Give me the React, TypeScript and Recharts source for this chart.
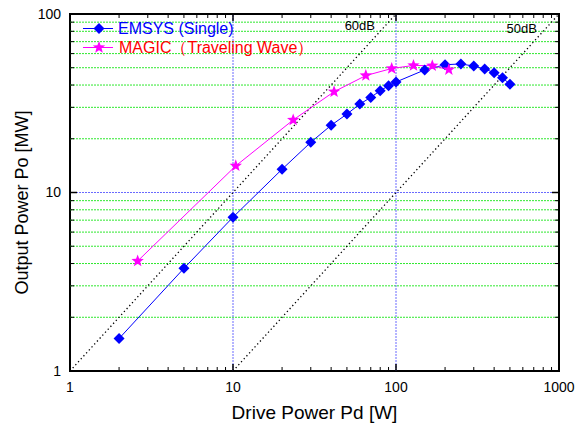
import React from 'react';
import {
  ComposedChart,
  Line,
  XAxis,
  YAxis,
  ReferenceLine,
  ReferenceArea,
  ReferenceDot,
  Legend,
  Label,
} from 'recharts';

// ---- data ----
const emsysPd = [2, 5, 10, 20, 30, 40, 50, 60, 70, 80, 90, 100, 150, 200, 250, 300, 350, 400, 450, 500];
const emsysPo = [1.52, 3.76, 7.27, 13.5, 19.1, 23.8, 27.5, 31.3, 34.1, 37.2, 39.6, 41.6, 48.6, 52.0, 52.5, 51.1, 49.2, 46.9, 44.0, 40.4];

const magicPd = [2.6, 10.4, 23.4, 41.7, 65.3, 94.1, 128, 167, 211];
const magicPo = [4.13, 14.1, 25.5, 36.7, 45.2, 49.5, 51.5, 51.3, 48.8];

const xTickLabels = [1, 10, 100, 1000];
const yTickLabels = [1, 10, 100];
const xMinorTicks = [2, 3, 4, 5, 6, 7, 8, 9, 20, 30, 40, 50, 60, 70, 80, 90, 200, 300, 400, 500, 600, 700, 800, 900];
const yMinorTicks = [2, 3, 4, 5, 6, 7, 8, 9, 20, 30, 40, 50, 60, 70, 80, 90];
const xMajorTicks = [10, 100];
const yMajorTicks = [10];

// gain reference lines: 60dB (Po[MW] = Pd[W]) and 50dB (Po[MW] = Pd[W]/10)
const line60dB = [{ x: 1, y: 1 }, { x: 100, y: 100 }];
const line50dB = [{ x: 10, y: 1 }, { x: 1000, y: 100 }];

const emsysData = emsysPd.map((x, i) => ({ x, y: emsysPo[i] }));
const magicData = magicPd.map((x, i) => ({ x, y: magicPo[i] }));

const BLUE = '#0000ff';
const MAGENTA = '#ff00ff';
const RED = '#ff0000';
const GREEN = '#2ee82e';
const GRIDBLUE = '#6a6aff';
const FONT = '"Liberation Sans", Arial, sans-serif';

// tick-length factors in data units (log axes)
const yMinorF = Math.pow(10, 4 / 178.5);
const yMajorF = Math.pow(10, 7 / 178.5);
const xMinorF = Math.pow(10, 4 / 163);
const xMajorF = Math.pow(10, 7 / 163);

const diamondPts = (cx: number, cy: number, r: number) =>
  `${cx},${cy - r} ${cx + r},${cy} ${cx},${cy + r} ${cx - r},${cy}`;

const starPts = (cx: number, cy: number, ro: number, ri: number) => {
  const pts: string[] = [];
  for (let i = 0; i < 10; i++) {
    const r = i % 2 === 0 ? ro : ri;
    const a = -Math.PI / 2 + (i * Math.PI) / 5;
    pts.push(`${cx + r * Math.cos(a)},${cy + r * Math.sin(a)}`);
  }
  return pts.join(' ');
};

const DiamondDot = (props: any) => {
  const { cx, cy, index } = props;
  if (cx == null || cy == null) return <g key={`dd${index}`} />;
  return <polygon key={`dd${index}`} points={diamondPts(cx, cy, 5.5)} fill={BLUE} />;
};

const StarDot = (props: any) => {
  const { cx, cy, index } = props;
  if (cx == null || cy == null) return <g key={`sd${index}`} />;
  return <polygon key={`sd${index}`} points={starPts(cx, cy, 6.5, 2.7)} fill={MAGENTA} />;
};

const rowStyle: React.CSSProperties = { display: 'flex', alignItems: 'center', height: 19 };
const textStyle: React.CSSProperties = { whiteSpace: 'nowrap', display: 'inline-block', height: 19, lineHeight: '19px' };

const LegendContent = () => (
  <div style={{ fontFamily: FONT, fontSize: 16, lineHeight: '19px' }}>
    <div style={rowStyle}>
      <svg width={36} height={19}>
        <line x1={1} y1={9.5} x2={31} y2={9.5} stroke={BLUE} strokeWidth={1} />
        <polygon points={diamondPts(17, 9.5, 5.5)} fill={BLUE} />
      </svg>
      <span style={{ ...textStyle, color: BLUE }}>EMSYS (Single)</span>
    </div>
    <div style={rowStyle}>
      <svg width={36} height={19}>
        <line x1={1} y1={9.5} x2={31} y2={9.5} stroke={MAGENTA} strokeWidth={1} />
        <polygon points={starPts(17, 9.5, 6.5, 2.7)} fill={MAGENTA} />
      </svg>
      <span style={{ ...textStyle, color: RED, marginLeft: 1 }}>MAGIC（Traveling Wave）</span>
    </div>
  </div>
);

export default function App() {
  return (
    <div style={{ position: 'absolute', left: 0, top: 0, width: 575, height: 425, background: '#fff' }}>
      <ComposedChart
        width={575}
        height={425}
        margin={{ top: 14, right: 16, bottom: 0, left: 0 }}
      >
        <XAxis
          type="number"
          dataKey="x"
          scale="log"
          domain={[1, 1000]}
          allowDataOverflow
          ticks={xTickLabels}
          tickLine={false}
          axisLine={false}
          tickSize={0}
          tickMargin={11}
          height={54}
          tick={{ fill: '#000', fontSize: 14, fontFamily: FONT }}
          interval={0}
        >
          <Label
            value="Drive Power Pd [W]"
            position="insideBottom"
            offset={6}
            style={{ fill: '#000', fontSize: 19, fontFamily: FONT }}
          />
        </XAxis>
        <YAxis
          type="number"
          dataKey="y"
          scale="log"
          domain={[1, 100]}
          allowDataOverflow
          ticks={yTickLabels}
          tickLine={false}
          axisLine={false}
          tickSize={0}
          tickMargin={9}
          width={70}
          tick={{ fill: '#000', fontSize: 14, fontFamily: FONT }}
          interval={0}
        >
          <Label
            content={(p: any) => {
              const vb = p.viewBox || { x: 0, y: 14, width: 70, height: 357 };
              const cx = vb.x + 28;
              const cy = vb.y + vb.height / 2 + 10;
              return (
                <text
                  x={cx}
                  y={cy}
                  transform={`rotate(-90, ${cx}, ${cy})`}
                  textAnchor="middle"
                  fill="#000"
                  fontSize={18}
                  fontFamily={FONT}
                >
                  Output Power Po [MW]
                </text>
              );
            }}
          />
        </YAxis>

        {/* horizontal green minor grid */}
        {yMinorTicks.map((v) => (
          <ReferenceLine key={`gy${v}`} y={v} stroke={GREEN} strokeDasharray="2 1" strokeWidth={1} />
        ))}
        {/* blue major grid */}
        {yMajorTicks.map((v) => (
          <ReferenceLine key={`by${v}`} y={v} stroke={GRIDBLUE} strokeDasharray="2 1" strokeWidth={1} />
        ))}
        {xMajorTicks.map((v) => (
          <ReferenceLine key={`bx${v}`} x={v} stroke={GRIDBLUE} strokeDasharray="2 1" strokeWidth={1} />
        ))}

        {/* gain lines */}
        <ReferenceLine segment={line60dB} stroke="#000" strokeDasharray="1.3 2.7" strokeWidth={1.3} />
        <ReferenceLine segment={line50dB} stroke="#000" strokeDasharray="1.3 2.7" strokeWidth={1.3} />
        <ReferenceDot
          x={60}
          y={86}
          r={0}
          fill="none"
          stroke="none"
          label={{ value: '60dB', position: 'center', fill: '#000', fontSize: 13, fontFamily: FONT }}
        />
        <ReferenceDot
          x={590}
          y={83}
          r={0}
          fill="none"
          stroke="none"
          label={{ value: '50dB', position: 'center', fill: '#000', fontSize: 13, fontFamily: FONT }}
        />

        {/* inward ticks: bottom & top */}
        {xMinorTicks.map((v) => (
          <ReferenceLine key={`xb${v}`} segment={[{ x: v, y: 1 }, { x: v, y: 1 * yMinorF }]} stroke="#000" strokeWidth={1} />
        ))}
        {xMinorTicks.map((v) => (
          <ReferenceLine key={`xt${v}`} segment={[{ x: v, y: 100 }, { x: v, y: 100 / yMinorF }]} stroke="#000" strokeWidth={1} />
        ))}
        {xMajorTicks.map((v) => (
          <ReferenceLine key={`xbm${v}`} segment={[{ x: v, y: 1 }, { x: v, y: 1 * yMajorF }]} stroke="#000" strokeWidth={1.5} />
        ))}
        {xMajorTicks.map((v) => (
          <ReferenceLine key={`xtm${v}`} segment={[{ x: v, y: 100 }, { x: v, y: 100 / yMajorF }]} stroke="#000" strokeWidth={1.5} />
        ))}
        {/* inward ticks: left & right */}
        {yMinorTicks.map((v) => (
          <ReferenceLine key={`yl${v}`} segment={[{ x: 1, y: v }, { x: 1 * xMinorF, y: v }]} stroke="#000" strokeWidth={1} />
        ))}
        {yMinorTicks.map((v) => (
          <ReferenceLine key={`yr${v}`} segment={[{ x: 1000, y: v }, { x: 1000 / xMinorF, y: v }]} stroke="#000" strokeWidth={1} />
        ))}
        {yMajorTicks.map((v) => (
          <ReferenceLine key={`ylm${v}`} segment={[{ x: 1, y: v }, { x: 1 * xMajorF, y: v }]} stroke="#000" strokeWidth={1.5} />
        ))}
        {yMajorTicks.map((v) => (
          <ReferenceLine key={`yrm${v}`} segment={[{ x: 1000, y: v }, { x: 1000 / xMajorF, y: v }]} stroke="#000" strokeWidth={1.5} />
        ))}

        <ReferenceArea x1={1} x2={1000} y1={1} y2={100} fill="none" fillOpacity={0} stroke="#000" strokeWidth={2} />

        <Line
          data={emsysData}
          dataKey="y"
          name="EMSYS (Single)"
          stroke={BLUE}
          strokeWidth={1}
          dot={DiamondDot}
          activeDot={false}
          isAnimationActive={false}
        />
        <Line
          data={magicData}
          dataKey="y"
          name="MAGIC（Traveling Wave）"
          stroke={MAGENTA}
          strokeWidth={1}
          dot={StarDot}
          activeDot={false}
          isAnimationActive={false}
        />

        <Legend
          layout="vertical"
          align="center"
          verticalAlign="middle"
          content={LegendContent}
          wrapperStyle={{ left: 82, top: 19, width: 260, height: 40 }}
        />
      </ComposedChart>
    </div>
  );
}
